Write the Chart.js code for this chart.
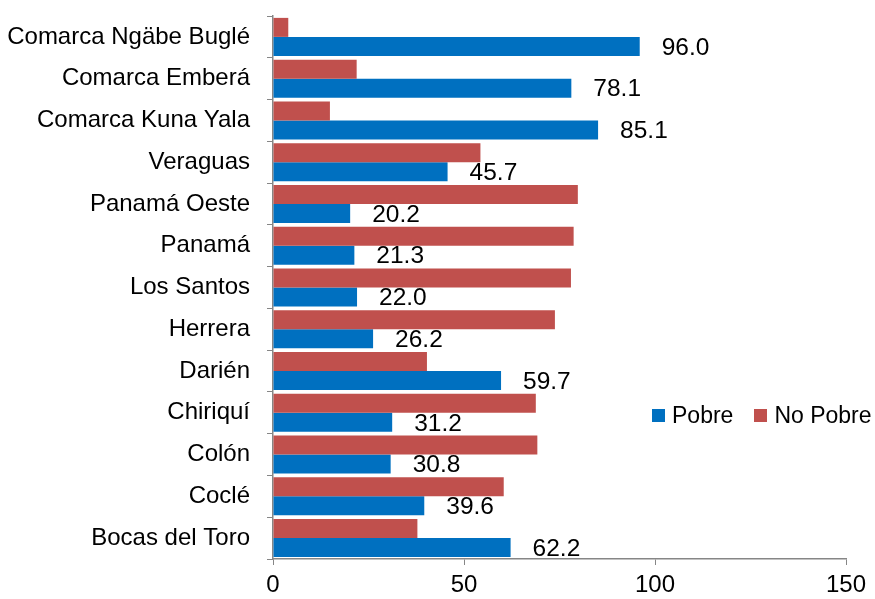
<!DOCTYPE html>
<html lang="es">
<head>
<meta charset="utf-8">
<title>Pobre / No Pobre por provincia</title>
<script src="https://cdn.jsdelivr.net/npm/chart.js@4.4.1/dist/chart.umd.min.js"></script>
<style>
  html, body { margin: 0; padding: 0; background: #fff; }
  .wrap { position: relative; width: 875px; height: 599px; }
  canvas { display: block; }
  .legend {
    position: absolute; left: 652px; top: 402px;
    font: 23px "Liberation Sans", Arial, sans-serif; color: #000;
    display: flex; align-items: center; white-space: nowrap;
  }
  .legend span.box { display: inline-block; width: 13px; height: 13px; margin-right: 7px; }
  .legend .item { display: flex; align-items: center; margin-right: 21px; }
</style>
</head>
<body>
<div class="wrap">
  <canvas id="chart" width="875" height="599"></canvas>
  <div class="legend" id="legend"></div>
</div>
<script>
/* datos: porcentaje de población pobre / no pobre por provincia y comarca */
const categories = [
  "Comarca Ngäbe Buglé", "Comarca Emberá", "Comarca Kuna Yala", "Veraguas",
  "Panamá Oeste", "Panamá", "Los Santos", "Herrera", "Darién", "Chiriquí",
  "Colón", "Coclé", "Bocas del Toro",
];
const pobre = [96.0, 78.1, 85.1, 45.7, 20.2, 21.3, 22.0, 26.2, 59.7, 31.2, 30.8, 39.6, 62.2];
const noPobre = [4.0, 21.9, 14.9, 54.3, 79.8, 78.7, 78.0, 73.8, 40.3, 68.8, 69.2, 60.4, 37.8];
const xTicks = [0, 50, 100, 150];

const FONT = "'Liberation Sans', Arial, sans-serif";
const AXIS = "#868686";
Chart.defaults.font.family = FONT;
Chart.defaults.color = "#000";

// etiquetas de valor a la derecha de las barras "Pobre"
const valueLabels = {
  id: "valueLabels",
  afterDatasetsDraw(chart) {
    const { ctx } = chart;
    const meta = chart.getDatasetMeta(1);
    ctx.save();
    ctx.font = `24.5px ${FONT}`;
    ctx.fillStyle = "#000";
    ctx.textAlign = "left";
    ctx.textBaseline = "middle";
    meta.data.forEach((bar, i) => {
      ctx.fillText(pobre[i].toFixed(1), bar.x + 22, bar.y + 1.5);
    });
    ctx.restore();
  },
};

const chart = new Chart(document.getElementById("chart"), {
  type: "bar",
  data: {
    labels: categories,
    datasets: [
      { label: "No Pobre", data: noPobre, backgroundColor: "#C0504D" },
      { label: "Pobre", data: pobre, backgroundColor: "#0070C0" },
    ],
  },
  options: {
    indexAxis: "y",
    responsive: false,
    animation: false,
    categoryPercentage: 0.91,
    barPercentage: 1,
    layout: { padding: { left: 6, top: 16, right: 29, bottom: 0 } },
    plugins: { legend: { display: false }, tooltip: { enabled: false } },
    scales: {
      x: {
        min: 0, max: 150,
        afterBuildTicks: (s) => { s.ticks = xTicks.map((v) => ({ value: v })); },
        afterFit: (s) => { s.height = 40; },
        grid: { drawOnChartArea: false, tickLength: 6, color: AXIS },
        border: { color: AXIS, width: 1.5 },
        ticks: { font: { size: 24 }, padding: 6, color: "#000" },
      },
      y: {
        afterFit: (s) => { s.width = 267; s.paddingTop = 0; s.paddingBottom = 0; },
        grid: { drawOnChartArea: false, tickLength: 6, color: AXIS, offset: true },
        border: { color: AXIS, width: 1.5 },
        ticks: { font: { size: 24 }, padding: 17, color: "#000" },
      },
    },
  },
  plugins: [valueLabels],
});

// leyenda propia (Pobre primero), superpuesta al área del gráfico
const legend = document.getElementById("legend");
[...chart.data.datasets].reverse().forEach((ds) => {
  const item = document.createElement("div");
  item.className = "item";
  item.innerHTML = `<span class="box" style="background:${ds.backgroundColor}"></span>${ds.label}`;
  legend.appendChild(item);
});
</script>
</body>
</html>
